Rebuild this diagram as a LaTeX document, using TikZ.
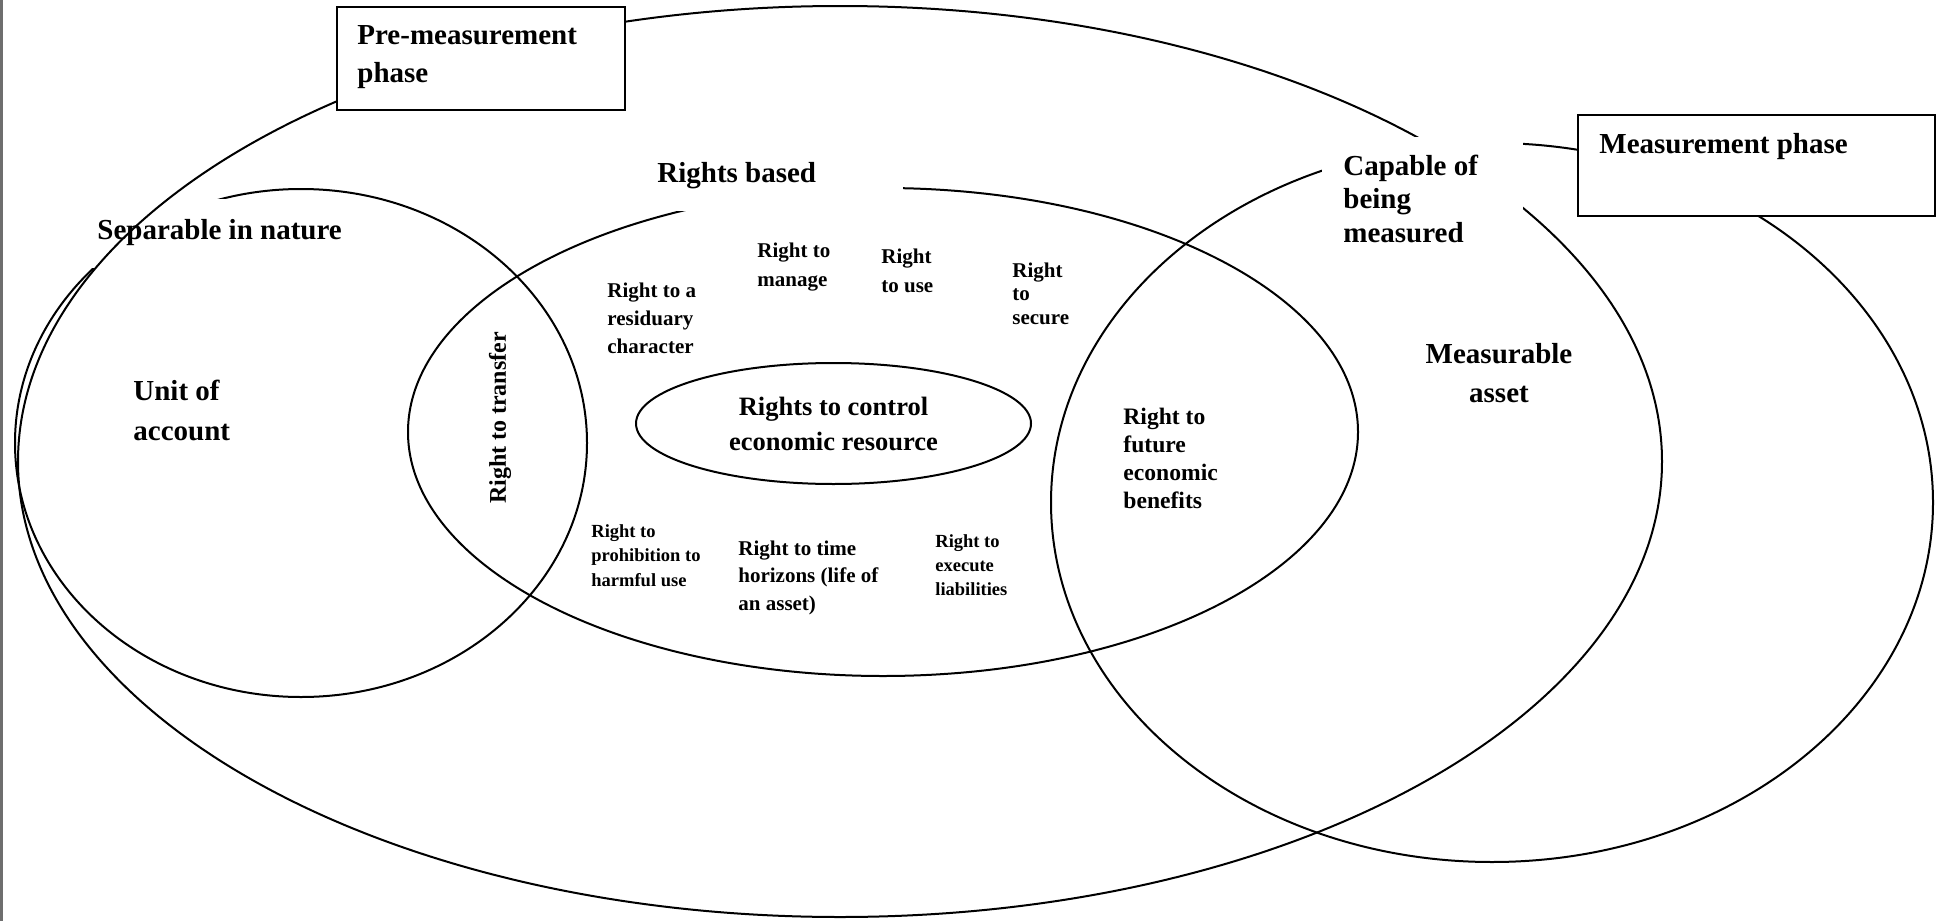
\documentclass[tikz,border=0pt]{standalone}
\usepackage{fontspec}
\setmainfont{Liberation Serif}
\usetikzlibrary{shapes.geometric}
\definecolor{pageedge}{HTML}{6E6E6E}
\begin{document}
\begin{tikzpicture}[x=0.5pt,y=-0.5pt,
  ring/.style={draw=black, line width=1pt},
  phasebox/.style={draw=black, fill=white, line width=1pt, rectangle, inner sep=0pt, anchor=north west},
  % multi-line labels are placed by the baseline of their last line
  txt/.style={inner sep=0pt, align=left, anchor=base west},
  ctxt/.style={inner sep=0pt, align=center, anchor=base},
  fA/.style={font={\fontsize{14.5pt}{#1}\selectfont\bfseries}},
  fB/.style={font={\fontsize{13.25pt}{#1}\selectfont\bfseries}},
  fC/.style={font={\fontsize{11.8pt}{#1}\selectfont\bfseries}},
  fD/.style={font={\fontsize{10.5pt}{#1}\selectfont\bfseries}},
  fE/.style={font={\fontsize{9.25pt}{#1}\selectfont\bfseries}}]
\useasboundingbox (0,0) rectangle (1944,921);
\fill[white] (0,0) rectangle (1944,921);
% page edge
\fill[pageedge] (0,0) rectangle (2.5,921);

% separable-in-nature ellipse, partly masked by its heading
\draw[ring] (301,443) ellipse [x radius=143pt, y radius=127pt];
\fill[white] (80,199) rectangle (356,268);
\node[txt, fA=19pt] (sep) at (97,239) {Separable in nature};

% pre-measurement ellipse
\draw[ring] (840,461.5) ellipse [x radius=411pt, y radius=227.75pt];

% rights-based ellipse
\draw[ring] (883,432) ellipse [x radius=237.5pt, y radius=122pt];

% core ellipse
\node[ellipse, ring, inner sep=0pt, minimum width=197.5pt, minimum height=60.5pt,
      align=center, fB=17.5pt] (core) at (833.5,423.5)
      {Rights to control\\economic resource};

% measurement ellipse
\draw[ring] (1492,502.5) ellipse [x radius=220.5pt, y radius=179.75pt];

% masks behind headings
\fill[white] (650,150) rectangle (903,211);
\fill[white] (1322,137) rectangle (1523,255);

% phase boxes
\node[phasebox, minimum width=144pt, minimum height=51.5pt] (prebox) at (336,6) {};
\node[txt, fA=19pt] (pre) at (357,82) {Pre-measurement\\phase};
\node[phasebox, minimum width=178.5pt, minimum height=50.5pt] (measbox) at (1577,114) {};
\node[txt, fA=19pt] (meas) at (1599,153) {Measurement phase};

% headings and region labels
\node[txt, fA=16.75pt] (capable) at (1343,242) {Capable of\\being\\measured};
\node[txt, fA=19pt] (based) at (657,182) {Rights based};
\node[txt, fA=20pt] (unit) at (133,440) {Unit of\\account};
\node[ctxt, fA=19.5pt] (measurable) at (1499,402) {Measurable\\asset};
\node[txt, fC=13.85pt] (future) at (1123,508) {Right to\\future\\economic\\benefits};
\node[inner sep=0pt, rotate=90, font={\fontsize{12pt}{14pt}\selectfont\bfseries}] (transfer) at (500,418) {Right to transfer};

% individual rights
\node[txt, fD=14pt] (residuary) at (607,353) {Right to a\\residuary\\character};
\node[txt, fD=14.5pt] (manage) at (757,286) {Right to\\manage};
\node[txt, fD=14.5pt] (use) at (881,292) {Right\\to use};
\node[txt, fD=11.75pt] (secure) at (1012,324) {Right\\to\\secure};
\node[txt, fE=12.25pt] (harm) at (591,586) {Right to\\prohibition to\\harmful use};
\node[txt, fD=13.75pt] (horizon) at (738,610) {Right to time\\horizons (life of\\an asset)};
\node[txt, fE=12pt] (liab) at (935,595) {Right to\\execute\\liabilities};
\end{tikzpicture}
\end{document}
